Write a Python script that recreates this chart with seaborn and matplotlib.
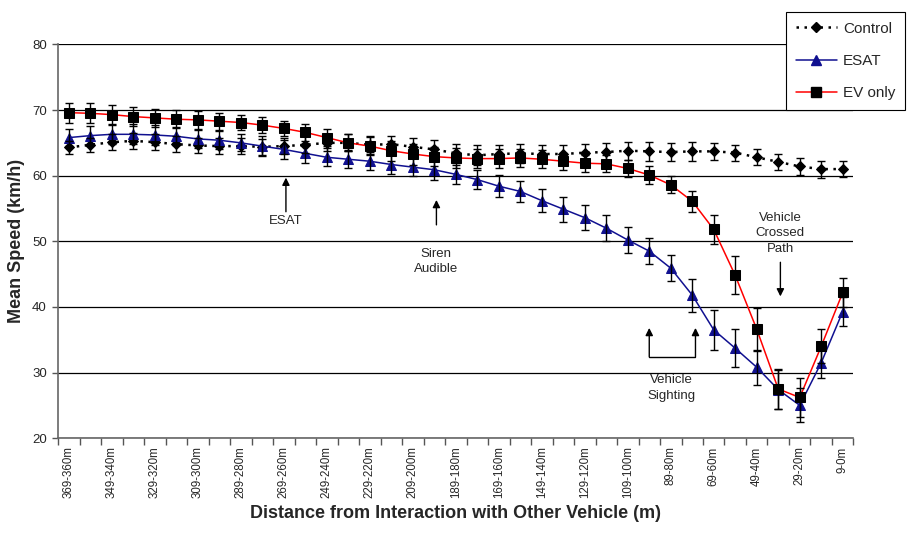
import matplotlib
matplotlib.use('Agg')

import numpy as np
import pandas as pd
import seaborn as sns
import matplotlib.pyplot as plt
from matplotlib.lines import Line2D
from matplotlib.ticker import FixedLocator

# distance bins, 10 m each, from 369-360m down to 9-0m
bins = [f"{s}-{max(s - 9, 0)}m" for s in range(369, -1, -10)]
bins[-1] = "9-0m"

control = [64.3, 64.7, 65.1, 65.3, 65.1, 64.8, 64.6, 64.5, 64.5, 64.4,
           64.5, 64.7, 65.0, 65.0, 64.7, 64.8, 64.4, 64.0, 63.4, 63.1,
           63.3, 63.4, 63.3, 63.3, 63.5, 63.6, 63.8, 63.7, 63.6, 63.7,
           63.7, 63.5, 62.8, 62.1, 61.4, 61.0, 61.0]
control_err = [1.0, 1.1, 1.2, 1.2, 1.2, 1.2, 1.2, 1.2, 1.2, 1.2,
               1.2, 1.3, 1.3, 1.3, 1.4, 1.3, 1.4, 1.5, 1.5, 1.5,
               1.4, 1.4, 1.4, 1.4, 1.4, 1.4, 1.4, 1.4, 1.4, 1.4,
               1.3, 1.2, 1.2, 1.2, 1.3, 1.3, 1.2]

esat = [65.8, 66.1, 66.3, 66.3, 66.2, 66.0, 65.6, 65.4, 65.0, 64.5,
        64.0, 63.4, 62.8, 62.5, 62.2, 61.7, 61.3, 60.9, 60.2, 59.4,
        58.4, 57.6, 56.2, 54.9, 53.6, 52.0, 50.2, 48.5, 45.9, 41.8,
        36.5, 33.7, 30.8, 27.4, 25.0, 31.5, 39.3]
esat_err = [1.3, 1.4, 1.4, 1.5, 1.5, 1.4, 1.4, 1.4, 1.3, 1.5,
            1.4, 1.4, 1.4, 1.4, 1.4, 1.4, 1.4, 1.5, 1.5, 1.5,
            1.7, 1.6, 1.8, 1.9, 1.9, 2.0, 2.0, 2.0, 2.0, 2.5,
            3.1, 2.9, 2.7, 3.0, 2.6, 2.4, 2.2]

ev_only = [69.6, 69.5, 69.3, 69.0, 68.8, 68.6, 68.5, 68.3, 68.1, 67.7,
           67.2, 66.6, 65.8, 65.0, 64.5, 63.8, 63.3, 62.9, 62.7, 62.6,
           62.6, 62.7, 62.5, 62.2, 61.9, 61.8, 61.1, 60.1, 58.6, 56.1,
           51.8, 44.8, 36.6, 27.5, 26.2, 34.0, 42.2]
ev_only_err = [1.5, 1.5, 1.5, 1.4, 1.4, 1.4, 1.4, 1.3, 1.2, 1.2,
               1.2, 1.3, 1.3, 1.3, 1.4, 1.5, 1.6, 1.5, 1.5, 1.5,
               1.5, 1.4, 1.4, 1.3, 1.3, 1.3, 1.3, 1.3, 1.3, 1.6,
               2.2, 2.9, 3.3, 3.1, 3.0, 2.6, 2.2]

sns.set_style('white')
plt.rcParams['font.family'] = ['Liberation Sans', 'DejaVu Sans']

pos = np.arange(len(bins))
fig = plt.figure(figsize=(9.07, 5.35), dpi=100)
ax = fig.add_axes([0.064, 0.181, 0.877, 0.736])

blue = '#101090'
series = [
    ('Control', control, control_err, dict(color='black', linestyle=(0, (1, 2.2)), linewidth=1.8,
                                           marker='D', markersize=5, markerfacecolor='black', markeredgecolor='black')),
    ('ESAT', esat, esat_err, dict(color=blue, linestyle='-', linewidth=1.1,
                                  marker='^', markersize=7.5, markerfacecolor=blue, markeredgecolor=blue)),
    ('EV only', ev_only, ev_only_err, dict(color='red', linestyle='-', linewidth=1.1,
                                           marker='s', markersize=7.5, markerfacecolor='black', markeredgecolor='black')),
]

handles = []
for name, vals, err, style in series:
    sns.lineplot(x=pos, y=vals, ax=ax, legend=False, zorder=3, **style)
    ax.errorbar(pos, vals, yerr=err, fmt='none', ecolor='black', elinewidth=1,
                capsize=3, capthick=1, zorder=4)
    handles.append(Line2D([], [], label=name, **style))

ax.set_xlim(-0.5, len(bins) - 0.5)
ax.set_ylim(20, 80)
ax.set_yticks(range(20, 81, 10))
ax.yaxis.grid(True, color='black', linewidth=0.9)
ax.xaxis.grid(False)
ax.set_axisbelow(True)

ax.set_xticks(pos[::2])
ax.set_xticklabels(bins[::2], rotation=90, fontsize=8.3)
ax.xaxis.set_minor_locator(FixedLocator(np.arange(-0.5, len(bins), 1)))
ax.tick_params(axis='x', which='major', length=0, pad=6)
ax.tick_params(axis='x', which='minor', length=5, width=1, color='#555555', direction='out', bottom=True)
ax.tick_params(axis='y', length=4, width=1, color='#555555', direction='out', left=True, labelsize=9.5, pad=4)

for side in ['top', 'right']:
    ax.spines[side].set_visible(False)
for side in ['left', 'bottom']:
    ax.spines[side].set_color('#666666')
    ax.spines[side].set_linewidth(1.2)

ax.set_ylabel('Mean Speed (km/h)', fontsize=13, fontweight='bold', labelpad=5)
ax.set_xlabel('Distance from Interaction with Other Vehicle (m)', fontsize=13, fontweight='bold', labelpad=5)

arrow = dict(arrowstyle='-|>', color='black', lw=1, mutation_scale=11, shrinkA=0, shrinkB=0)
ax.annotate('', xy=(10.1, 59.7), xytext=(10.1, 54.5), arrowprops=arrow)
ax.text(10.1, 53.1, 'ESAT', ha='center', va='center', fontsize=9.5)
ax.annotate('', xy=(17.1, 56.3), xytext=(17.1, 52.5), arrowprops=arrow)
ax.text(17.1, 46.9, 'Siren\nAudible', ha='center', va='center', fontsize=9.5, linespacing=1.4)
ax.annotate('', xy=(33.1, 41.6), xytext=(33.1, 46.8), arrowprops=arrow)
ax.text(33.1, 51.2, 'Vehicle\nCrossed\nPath', ha='center', va='center', fontsize=9.5, linespacing=1.4)
ax.annotate('', xy=(27.0, 36.8), xytext=(27.0, 32.4), arrowprops=arrow)
ax.annotate('', xy=(29.15, 36.8), xytext=(29.15, 32.4), arrowprops=arrow)
ax.plot([27.0, 29.15], [32.4, 32.4], color='black', lw=1)
ax.text(28.05, 27.6, 'Vehicle\nSighting', ha='center', va='center', fontsize=9.5, linespacing=1.4)

leg = fig.legend(handles=handles, loc='upper right', bbox_to_anchor=(0.998, 0.978),
                 fontsize=11, frameon=True, fancybox=False, framealpha=1,
                 edgecolor='black', labelspacing=1.2, handlelength=2.7,
                 handletextpad=0.4, borderpad=0.65, borderaxespad=0)
leg.get_frame().set_linewidth(0.8)

fig.savefig('out.png', dpi=100)
plt.close(fig)
